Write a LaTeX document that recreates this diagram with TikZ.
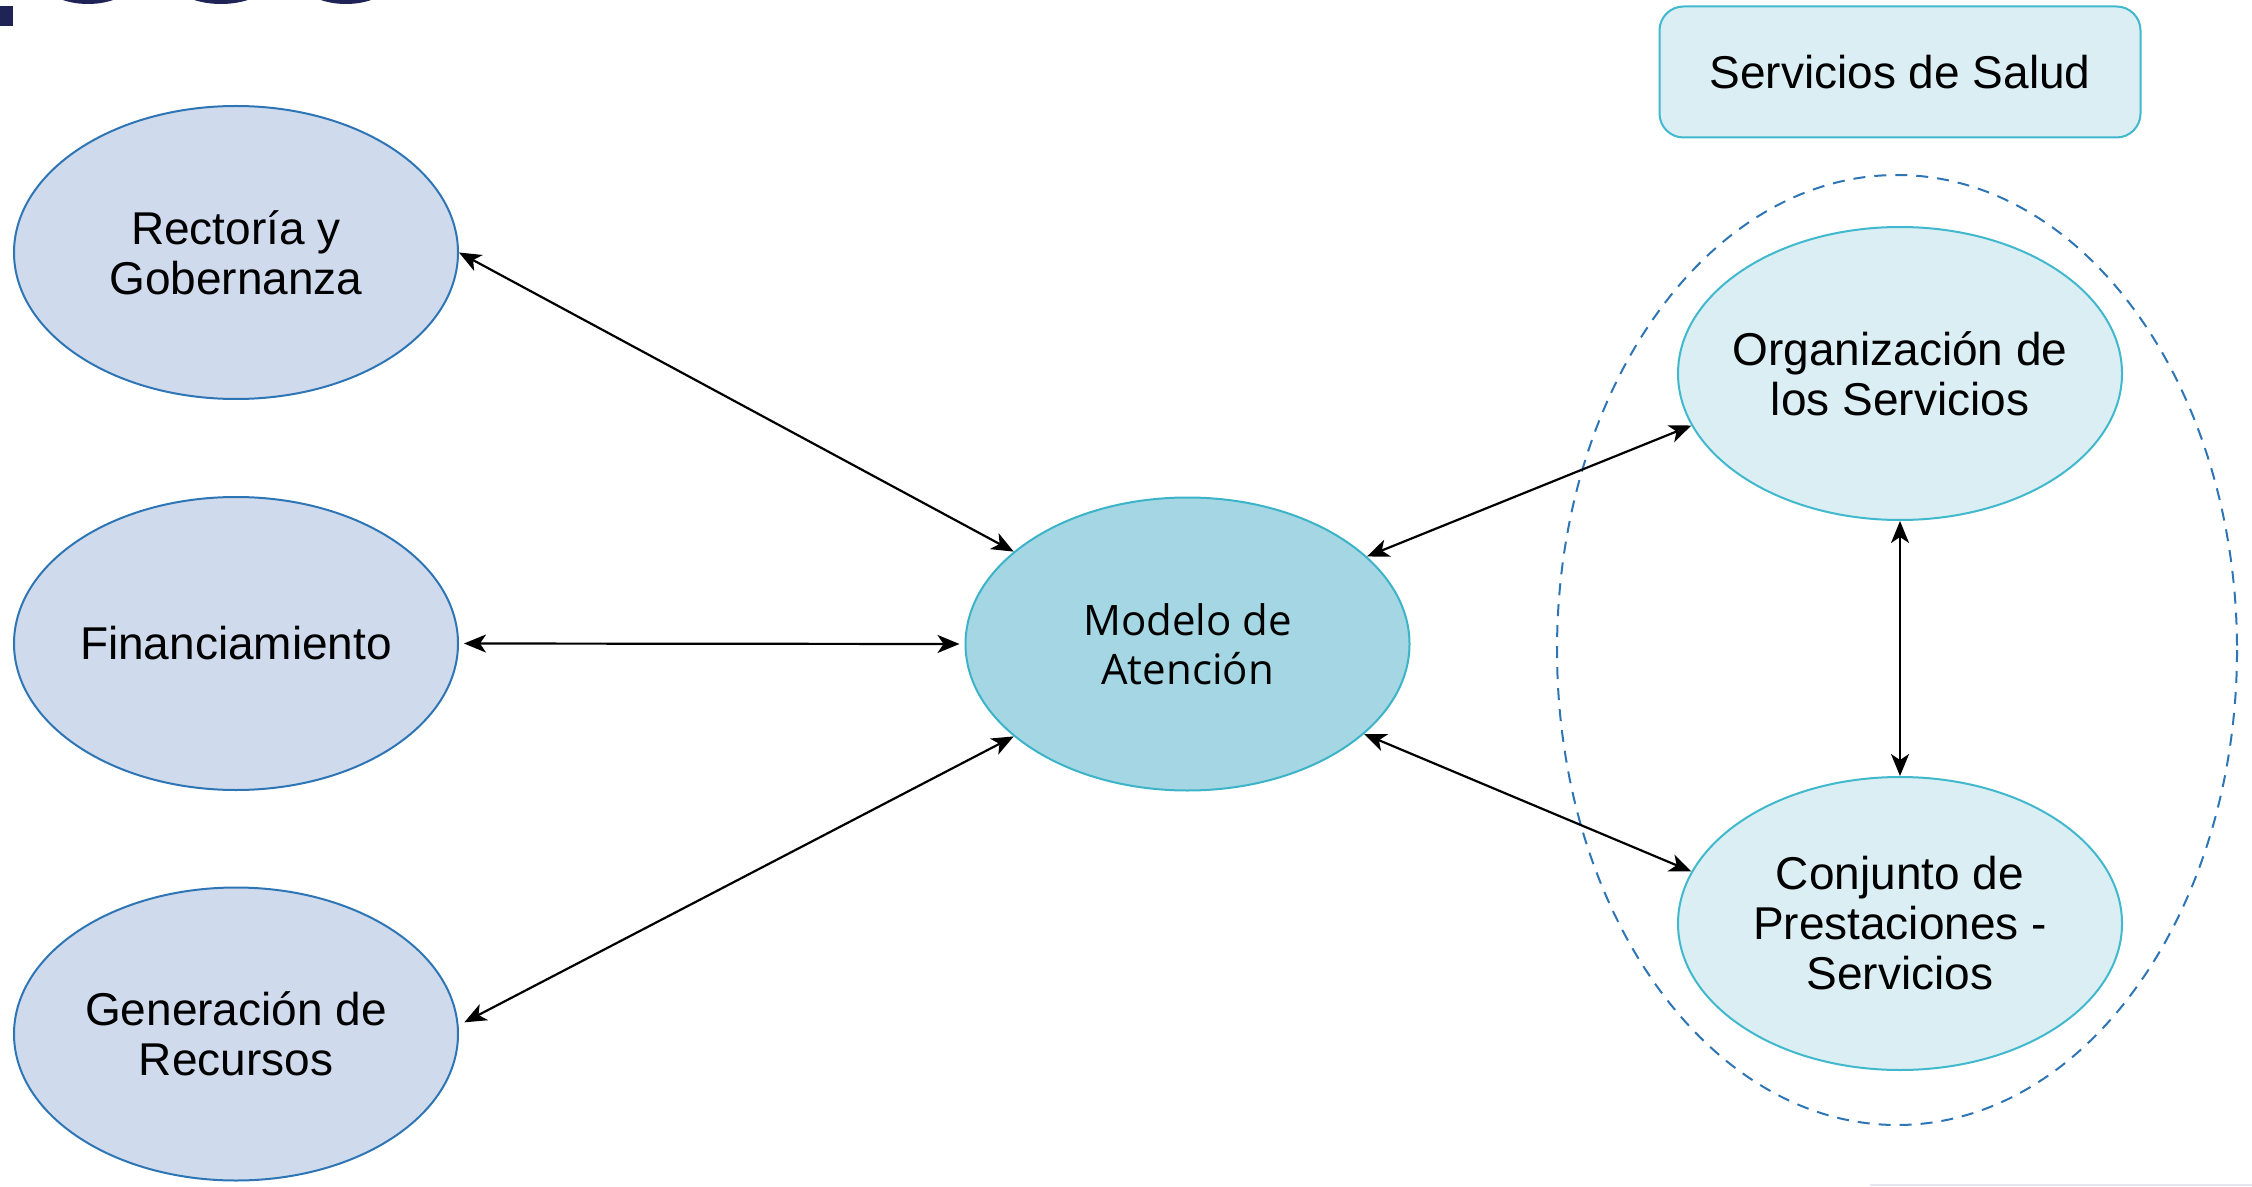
\documentclass[tikz,border=0pt]{standalone}
\usepackage{fontspec}
\setmainfont{Liberation Sans}
\newfontfamily\modelofont{Open Sans}
\usetikzlibrary{shapes.geometric,arrows.meta}
\definecolor{leftfill}{HTML}{CFDAEC}
\definecolor{leftline}{HTML}{2E75B6}
\definecolor{midfill}{HTML}{A4D7E3}
\definecolor{midline}{HTML}{3CB3C8}
\definecolor{rightfill}{HTML}{DAEEF3}
\definecolor{rightline}{HTML}{40B8CD}
\definecolor{navy}{HTML}{1F2356}
\definecolor{faintgray}{HTML}{E3E6EE}
\tikzset{
  bubble/.style={ellipse, inner xsep=-40pt, inner ysep=0pt, minimum width=222pt, minimum height=146.5pt,
     line width=1pt, align=center, font=\fontsize{23}{25}\selectfont},
  leftbubble/.style={bubble, draw=leftline, fill=leftfill},
  midbubble/.style={bubble, draw=midline, fill=midfill, font=\modelofont\fontsize{21}{24.5}\selectfont},
  rightbubble/.style={bubble, draw=rightline, fill=rightfill},
  titlebox/.style={rectangle, rounded corners=12pt, draw=rightline, fill=rightfill, line width=1pt,
     minimum width=240.5pt, minimum height=65.5pt, inner sep=0pt, font=\fontsize{23}{25}\selectfont},
  groupline/.style={draw=leftline, line width=1pt, dash pattern=on 6pt off 4.5pt},
  link/.style={line width=1.1pt, {Stealth[length=11pt,width=9pt,inset=3pt]}-{Stealth[length=11pt,width=9pt,inset=3pt]}}
}
\begin{document}
\begin{tikzpicture}[x=0.5pt,y=-0.5pt]
\useasboundingbox (0,0) rectangle (2252,1187);
\begin{scope}
\clip (0,0) rectangle (2252,1187);
% cropped logo fragment at the top
\fill[navy] (88,-24) ellipse (49 and 28);
\fill[navy] (221,-24) ellipse (52 and 28);
\fill[navy] (346,-24) ellipse (49 and 28);
\fill[navy] (0,6) rectangle (13,26);
% faint line bottom right
\draw[faintgray, line width=1pt] (1870,1185) -- (2252,1185);
\end{scope}

% dashed group
\draw[groupline] (1897,650) ellipse (340 and 475);

\node[titlebox] (salud) at (1900,72) {Servicios de Salud};

\node[leftbubble] (rect) at (236,252.5) {Rectoría y\\Gobernanza};
\node[leftbubble] (fin) at (236,643.5) {Financiamiento};
\node[leftbubble] (gen) at (236,1034) {Generación de\\Recursos};

\node[midbubble] (modelo) at (1187.5,644) {Modelo de\\Atención};

\node[rightbubble] (org) at (1900,373.5) {Organización de\\los Servicios};
\node[rightbubble] (conj) at (1900,923.5) {Conjunto de\\Prestaciones -\\Servicios};

\draw[link] (rect.east) -- (modelo.152);
\draw[link, shorten <=2.5pt, shorten >=2.5pt] (fin.east) -- (modelo.west);
\draw[link] ([xshift=3pt]gen.3) -- (modelo.208);
\draw[link] (modelo.26) -- (org.194);
\draw[link] (modelo.-27) -- (conj.166);
\draw[link] (org.south) -- (conj.north);
\end{tikzpicture}
\end{document}
